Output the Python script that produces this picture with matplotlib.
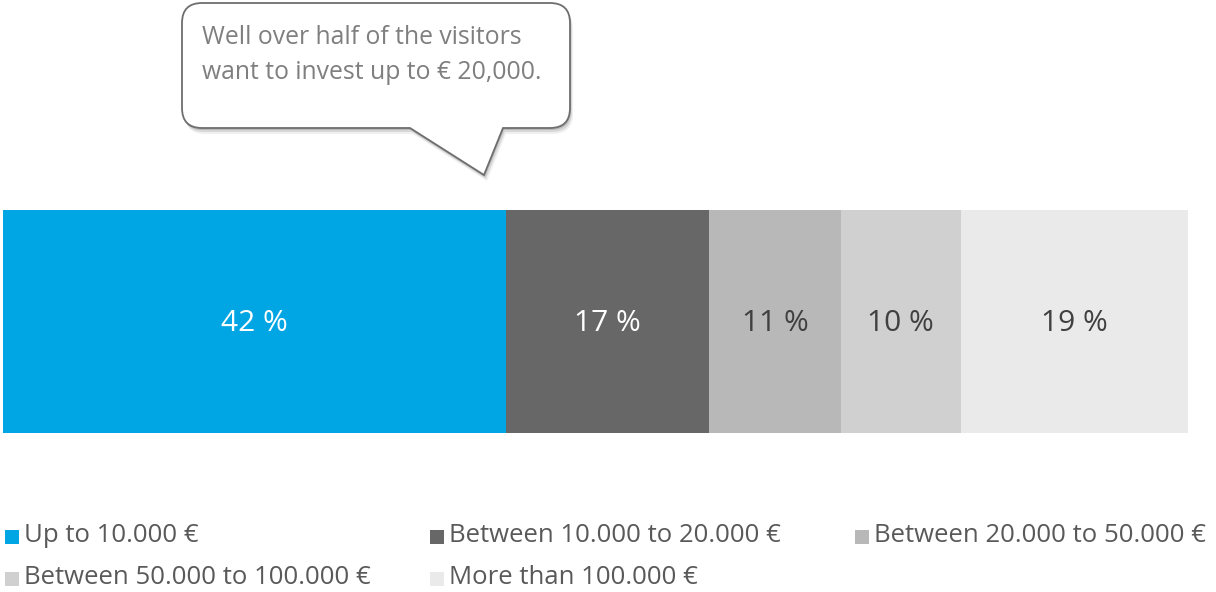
import matplotlib
matplotlib.use("Agg")
import matplotlib.pyplot as plt
from matplotlib.path import Path
from matplotlib.patches import PathPatch, Rectangle

plt.rcParams['font.family'] = ['Open Sans', 'DejaVu Sans']

# data
categories = ["Up to 10.000 €", "Between 10.000 to 20.000 €", "Between 20.000 to 50.000 €",
              "Between 50.000 to 100.000 €", "More than 100.000 €"]
shares = [42, 17, 11, 10, 19]
colors = ["#00A6E3", "#676767", "#B8B8B8", "#D0D0D0", "#EAEAEA"]
label_colors = ["white", "white", "#404040", "#404040", "#404040"]
callout_text = "Well over half of the visitors\nwant to invest up to € 20,000."

W, H = 1216, 592
fig = plt.figure(figsize=(W / 100, H / 100), dpi=100)

# stacked bar
ax = fig.add_axes([3 / W, (H - 433) / H, 1185 / W, 223 / H])
left = 0
for val, col, lc in zip(shares, colors, label_colors):
    ax.barh(0, val, left=left, height=1, color=col, edgecolor="none")
    ax.text(left + val / 2, -0.01, f"{val} %", ha="center", va="center",
            color=lc, fontsize=21.5)
    left += val
ax.set_xlim(0, sum(shares))
ax.set_ylim(-0.5, 0.5)
ax.axis("off")

# overlay in pixel coordinates for callout and legend
ov = fig.add_axes([0, 0, 1, 1], zorder=5)
ov.set_xlim(0, W)
ov.set_ylim(H, 0)
ov.axis("off")


def callout_path(x0, y0, x1, y1, r, b0, b1, tip):
    verts = [(x0 + r, y0), (x1 - r, y0), (x1, y0), (x1, y0 + r),
             (x1, y1 - r), (x1, y1), (x1 - r, y1),
             (b1, y1), tip, (b0, y1),
             (x0 + r, y1), (x0, y1), (x0, y1 - r),
             (x0, y0 + r), (x0, y0), (x0 + r, y0), (x0 + r, y0)]
    codes = [Path.MOVETO, Path.LINETO, Path.CURVE3, Path.CURVE3,
             Path.LINETO, Path.CURVE3, Path.CURVE3,
             Path.LINETO, Path.LINETO, Path.LINETO,
             Path.LINETO, Path.CURVE3, Path.CURVE3,
             Path.LINETO, Path.CURVE3, Path.CURVE3, Path.CLOSEPOLY]
    return Path(verts, codes)


box = dict(x0=182, y0=3, x1=570, y1=128, r=20, b0=410, b1=503, tip=(484, 175))
for d, a in [(6, 0.06), (4, 0.10), (2, 0.14)]:
    sh = dict(box)
    sh.update(x0=box["x0"] + d * 0.5, x1=box["x1"] + d * 0.5, y0=box["y0"] + d, y1=box["y1"] + d,
              b0=box["b0"] + d * 0.5, b1=box["b1"] + d * 0.5, tip=(box["tip"][0] + d * 0.5, box["tip"][1] + d))
    ov.add_patch(PathPatch(callout_path(**sh), facecolor="black", edgecolor="none", alpha=a))
ov.add_patch(PathPatch(callout_path(**box), facecolor="white", edgecolor="#6E6E6E", lw=1.3))
ov.text(202, 55, callout_text, ha="left", va="center", color="#7F7F7F",
        fontsize=17.8, linespacing=1.5)

# legend drawn by hand: 3 columns, row-major
for i, (cat, col) in enumerate(zip(categories, colors)):
    r, c = divmod(i, 3)
    x = 5 + c * 425
    y = 537 + r * 42
    ov.add_patch(Rectangle((x, y - 7), 14, 14, facecolor=col, edgecolor="none"))
    ov.text(x + 19, y - 2, cat, ha="left", va="center", color="#595959", fontsize=18.5)

fig.savefig("out.png", dpi=100, facecolor="white")
